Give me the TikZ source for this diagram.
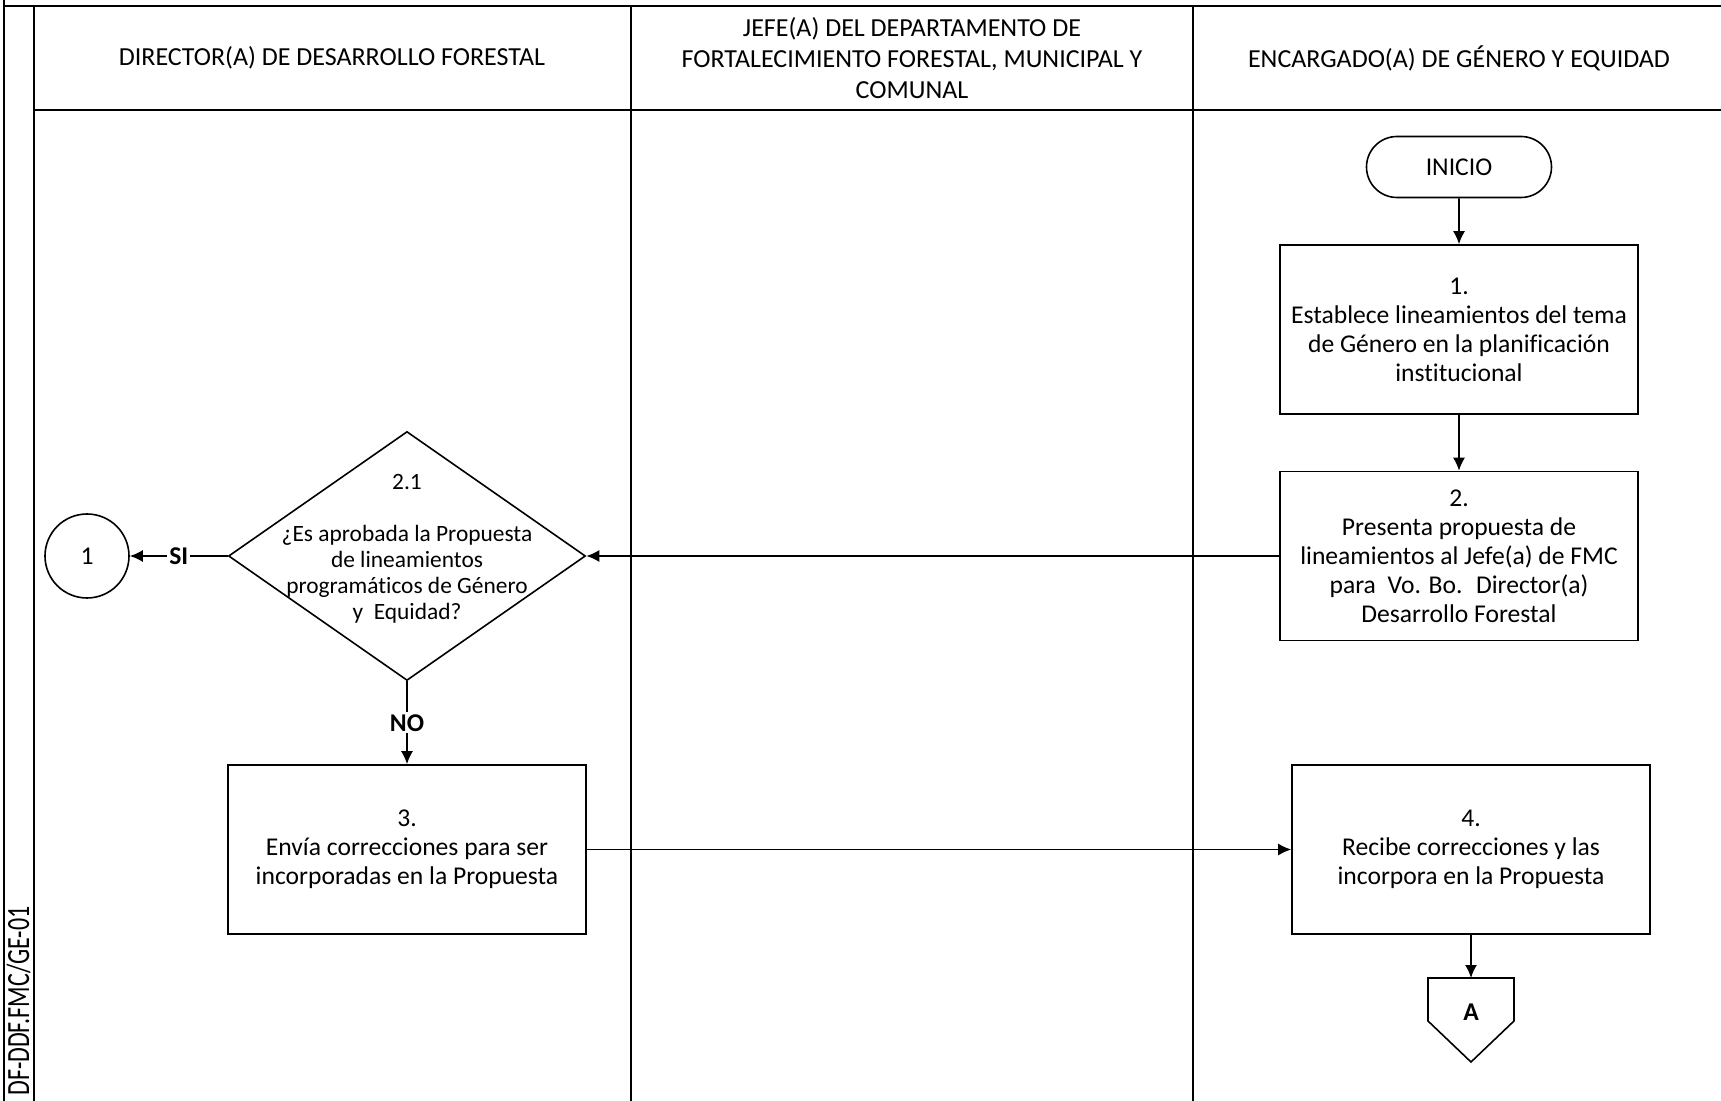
\documentclass[tikz,border=0pt]{standalone}
\usepackage{fontspec}
\setmainfont{Carlito}[Ligatures=NoCommon]
\usetikzlibrary{arrows.meta,shapes.geometric,shapes.misc}
\begin{document}
\begin{tikzpicture}[x=0.5pt,y=-0.5pt,
  font=\fontsize{12.8}{14.5}\selectfont,
  box/.style={draw, line width=0.8pt, minimum width=179pt, minimum height=84.5pt, align=center, inner sep=0pt},
  arr/.style={-{Latex[length=6.5pt,width=6pt]}, line width=0.8pt},
  lane/.style={line width=1pt},
  lbl/.style={fill=white, font=\fontsize{12.8}{14.5}\selectfont\bfseries, inner sep=1pt}]
\useasboundingbox (0,0) rectangle (1721,1101);
% frame and lanes
\draw[line width=1.2pt] (4,0) -- (4,1101);
\draw[line width=1.2pt] (4,6) -- (1721,6);
\draw[lane] (34,6) -- (34,1101);
\draw[lane] (34,110) -- (1721,110);
\draw[lane] (631,6) -- (631,1101);
\draw[lane] (1193,6) -- (1193,1101);
% headers
\node[align=center, font=\fontsize{13}{15.4}\selectfont] (h1) at (332,58) {DIRECTOR(A) DE DESARROLLO FORESTAL};
\node[align=center, font=\fontsize{13}{15.4}\selectfont] (h2) at (912,58) {JEFE(A) DEL DEPARTAMENTO DE\\FORTALECIMIENTO FORESTAL, MUNICIPAL Y\\COMUNAL};
\node[align=center, font=\fontsize{13}{15.4}\selectfont] (h3) at (1459,58) {ENCARGADO(A) DE GÉNERO Y EQUIDAD};
% side code
\node[rotate=90, anchor=base east, inner sep=0pt, font=\fontsize{12}{14}\selectfont] (code) at (29,906) {\scalebox{1}[1.35]{DF-DDF.FMC/GE-01}};
% shapes
\node[draw, rounded rectangle, minimum width=92.5pt, minimum height=30.5pt, line width=0.8pt, inner sep=0pt] (ini) at (1459,167) {INICIO};
\node[box] (b1) at (1459,329.5) {1.\\Establece lineamientos del tema\\de Género en la planificación\\institucional};
\node[box] (b2) at (1459,556) {2.\\Presenta propuesta de\\lineamientos al Jefe(a) de FMC\\para~ Vo. Bo.~ Director(a)\\Desarrollo Forestal};
\node[diamond, draw, minimum width=178.5pt, minimum height=124.5pt, inner sep=0pt, line width=0.8pt] (d) at (407,556) {};
\node[align=center, font=\fontsize{11.7}{13}\selectfont] (dt) at (407,549) {2.1\\[13pt]¿Es aprobada la Propuesta\\de lineamientos\\programáticos de Género\\y~ Equidad?};
\node[circle, draw, minimum size=42pt, inner sep=0pt, line width=0.8pt] (c1) at (87,556) {1};
\node[box] (b3) at (407,849.5) {3.\\Envía correcciones para ser\\incorporadas en la Propuesta};
\node[box] (b4) at (1471,849.5) {4.\\Recibe correcciones y las\\incorpora en la Propuesta};
% off-page connector
\coordinate (oA) at (1471,978);
\draw[line width=0.8pt] (1428,978) -- (1514,978) -- (1514,1021) -- (1471,1062) -- (1428,1021) -- cycle;
\node[font=\fontsize{12.8}{14.5}\selectfont\bfseries] (Alab) at (1471,1012) {A};
% connectors
\draw[arr] (ini) -- (b1);
\draw[arr] (b1) -- (b2);
\draw[arr] (b2) -- (d.east);
\draw[arr] (d.west) -- node[lbl]{SI} (c1);
\draw[arr] (d.south) -- node[lbl]{NO} (b3);
\draw[arr] (b3) -- (b4);
\draw[arr] (b4) -- (oA);
\end{tikzpicture}
\end{document}
